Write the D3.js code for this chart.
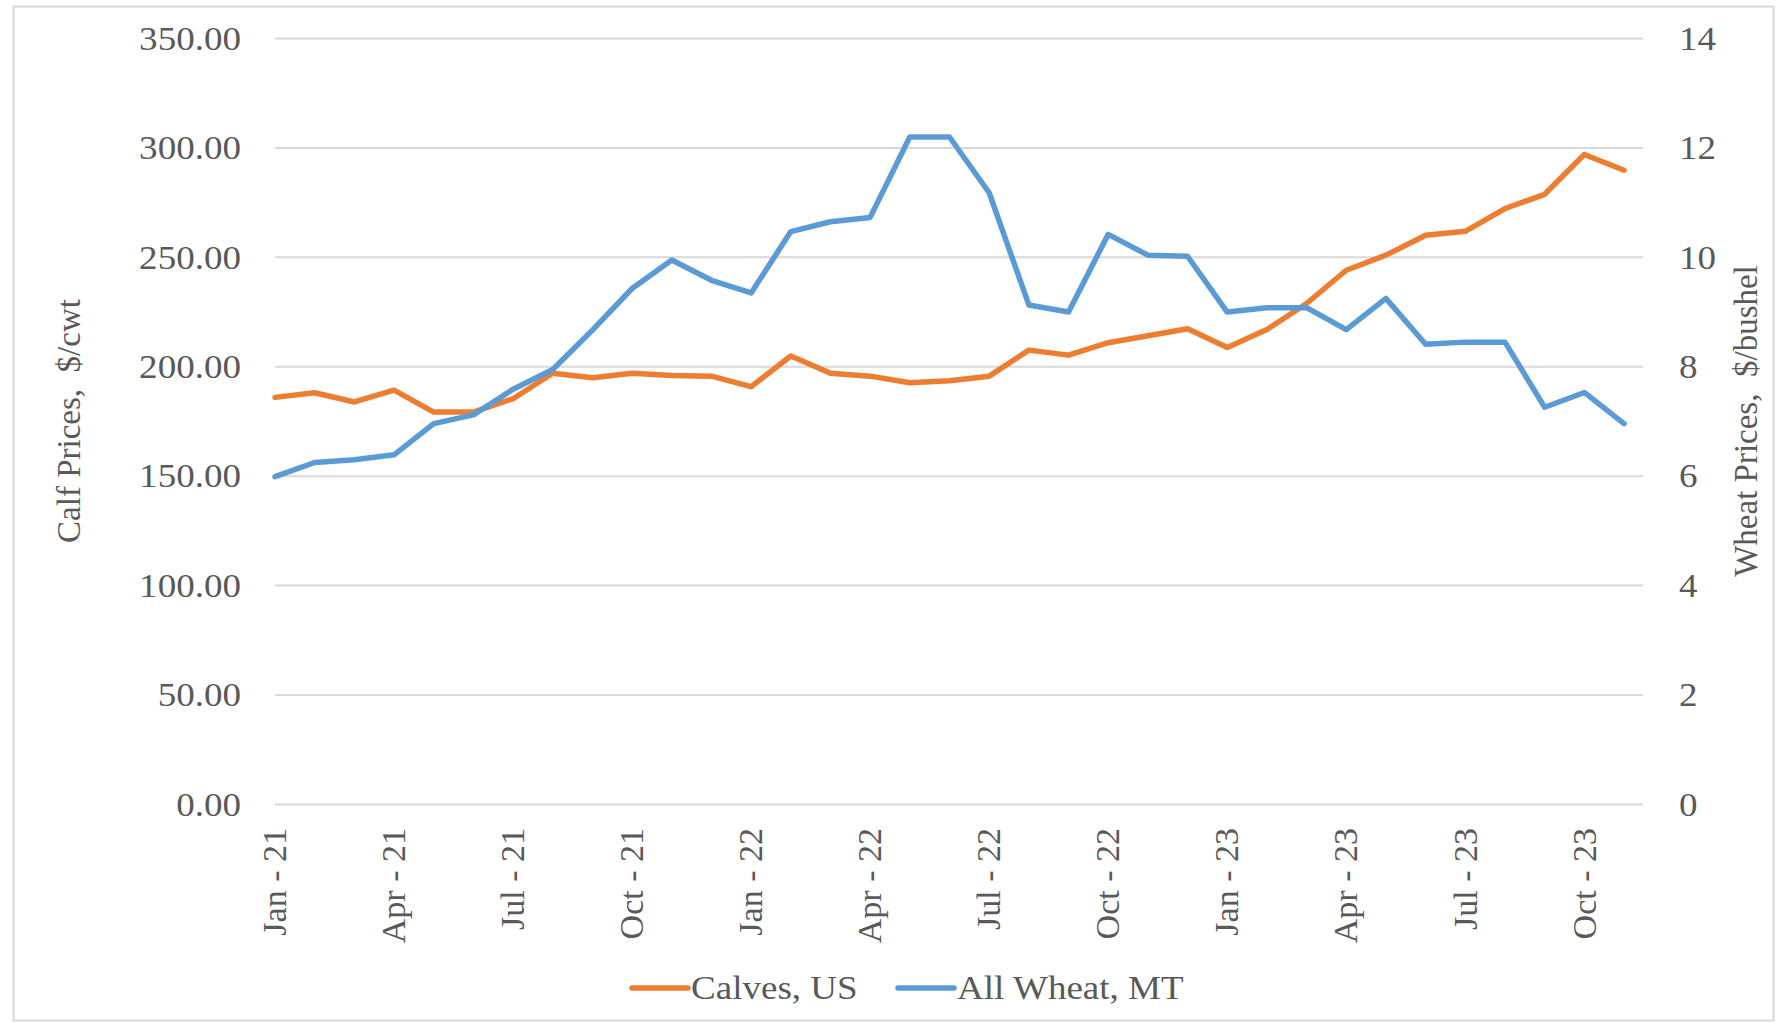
<!DOCTYPE html>
<html>
<head>
<meta charset="utf-8">
<script src="https://cdn.jsdelivr.net/npm/d3@7"></script>
<style>
  html, body { margin: 0; padding: 0; background: #fff; }
  svg text { font-family: "Liberation Serif", "Times New Roman", serif; fill: #595959; }
</style>
</head>
<body>
<svg id="chart" width="1776" height="1023"></svg>
<script>
// monthly series, Jan 2021 .. Nov 2023
var monthNames = ["Jan","Feb","Mar","Apr","May","Jun","Jul","Aug","Sep","Oct","Nov","Dec"];
var years = ["21","22","23"];
var months = [];
years.forEach(function(y) {
    monthNames.forEach(function(m) { months.push(m + " - " + y); });
});
months = months.slice(0, 35);

var calves = [186.0, 188.1, 183.9, 189.3, 179.3, 179.3, 185.4, 197.0, 195.0, 197.0,
              196.0, 195.7, 190.9, 204.9, 197.0, 195.7, 192.7, 193.6, 195.7, 207.6,
              205.3, 211.0, 214.2, 217.4, 208.8, 217.0, 228.9, 244.1, 251.0, 260.1,
              261.9, 272.3, 278.8, 297.0, 289.8];

var wheat = [5.99, 6.25, 6.30, 6.39, 6.96, 7.12, 7.59, 7.95, 8.67, 9.43,
             9.95, 9.58, 9.35, 10.47, 10.65, 10.73, 12.20, 12.20, 11.18, 9.13,
             9.00, 10.42, 10.04, 10.02, 9.00, 9.08, 9.08, 8.68, 9.25, 8.41,
             8.45, 8.45, 7.26, 7.53, 6.96];

var leftTicks = [0, 50, 100, 150, 200, 250, 300, 350];
var rightTicks = [0, 2, 4, 6, 8, 10, 12, 14];
var xTickLabels = months.filter(function(d, i) { return i % 3 == 0; });

var seriesNames = ["Calves, US", "All Wheat, MT"];
var colors = ["#ED7D31", "#5B9BD5"];

var svg = d3.select("#chart");
var plotLeft = 275, plotRight = 1643, plotTop = 38.5, plotBottom = 804.4;
var fs = 34, stretch = 1.09, lineW = 5.5;

// outer border
svg.append("rect")
    .attr("x", 13.5).attr("y", 6.5)
    .attr("width", 1760).attr("height", 1014)
    .attr("fill", "none").attr("stroke", "#d9d9d9").attr("stroke-width", 2);

var x = d3.scalePoint().domain(months).range([plotLeft, 1624]);
var yL = d3.scaleLinear().domain([0, 350]).range([plotBottom, plotTop]);
var yR = d3.scaleLinear().domain([0, 14]).range([plotBottom, plotTop]);

// gridlines
svg.append("g").selectAll("line")
    .data(leftTicks)
    .enter().append("line")
    .attr("x1", plotLeft).attr("x2", plotRight)
    .attr("y1", function(d) { return yL(d); })
    .attr("y2", function(d) { return yL(d); })
    .attr("stroke", "#d9d9d9").attr("stroke-width", 2);

// left tick labels
svg.append("g").selectAll("text")
    .data(leftTicks)
    .enter().append("text")
    .attr("transform", function(d) { return "translate(241," + yL(d) + ") scale(" + stretch + ",1)"; })
    .attr("dy", "0.33em")
    .attr("text-anchor", "end")
    .style("font-size", fs + "px")
    .text(function(d) { return d3.format(".2f")(d); });

// right tick labels
svg.append("g").selectAll("text")
    .data(rightTicks)
    .enter().append("text")
    .attr("transform", function(d) { return "translate(1679," + yR(d) + ") scale(" + stretch + ",1)"; })
    .attr("dy", "0.33em")
    .attr("text-anchor", "start")
    .style("font-size", fs + "px")
    .text(function(d) { return d; });

// x labels
svg.append("g").selectAll("text")
    .data(xTickLabels)
    .enter().append("text")
    .attr("transform", function(d) { return "translate(" + x(d) + ",828) rotate(-90)"; })
    .attr("dy", "0.33em")
    .attr("text-anchor", "end")
    .style("font-size", fs + "px")
    .text(function(d) { return d; });

// axis titles
svg.append("text")
    .attr("transform", "translate(80,421) rotate(-90)")
    .attr("text-anchor", "middle")
    .style("font-size", "33px")
    .style("white-space", "pre")
    .text("Calf Prices,  $/cwt");

svg.append("text")
    .attr("transform", "translate(1757,421) rotate(-90)")
    .attr("text-anchor", "middle")
    .style("font-size", "33px")
    .style("white-space", "pre")
    .text("Wheat Prices,  $/bushel");

// lines
var lineL = d3.line()
    .x(function(d, i) { return x(months[i]); })
    .y(function(d) { return yL(d); });
var lineR = d3.line()
    .x(function(d, i) { return x(months[i]); })
    .y(function(d) { return yR(d); });

svg.append("path")
    .datum(calves)
    .attr("d", lineL)
    .attr("fill", "none")
    .attr("stroke", colors[0])
    .attr("stroke-width", lineW)
    .attr("stroke-linejoin", "round")
    .attr("stroke-linecap", "round");

svg.append("path")
    .datum(wheat)
    .attr("d", lineR)
    .attr("fill", "none")
    .attr("stroke", colors[1])
    .attr("stroke-width", lineW)
    .attr("stroke-linejoin", "round")
    .attr("stroke-linecap", "round");

// legend
var legendX = [632, 898];
var legend = svg.append("g").selectAll("g")
    .data(seriesNames)
    .enter().append("g")
    .attr("transform", function(d, i) { return "translate(" + legendX[i] + ",988)"; });

legend.append("line")
    .attr("x1", 0).attr("x2", 56)
    .attr("y1", 0).attr("y2", 0)
    .attr("stroke", function(d, i) { return colors[i]; })
    .attr("stroke-width", lineW)
    .attr("stroke-linecap", "round");

legend.append("text")
    .attr("transform", "translate(59,0) scale(" + stretch + ",1)")
    .attr("dy", "0.33em")
    .style("font-size", fs + "px")
    .text(function(d) { return d; });
</script>
</body>
</html>
